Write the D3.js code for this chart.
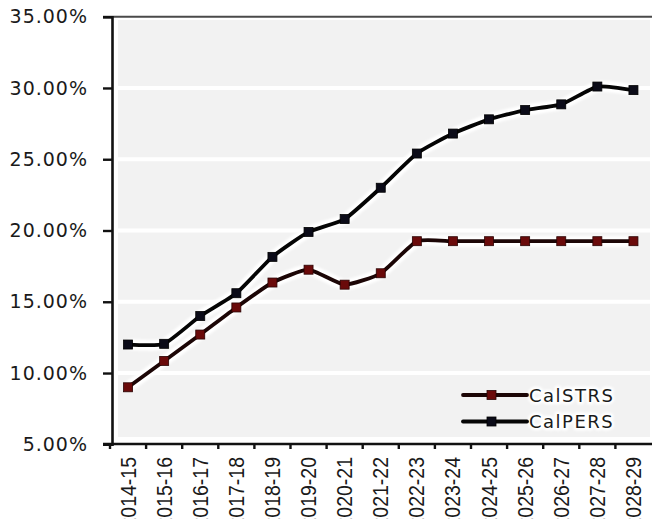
<!DOCTYPE html>
<html>
<head>
<meta charset="utf-8">
<script src="https://cdn.jsdelivr.net/npm/d3@7"></script>
<style>
  html, body { margin: 0; padding: 0; background: #ffffff; }
  svg { display: block; }
</style>
</head>
<body>
<svg id="chart" width="652" height="519"></svg>
<script>
// Fiscal years on the x axis
const years = ["2014-15","2015-16","2016-17","2017-18","2018-19","2019-20","2020-21",
               "2021-22","2022-23","2023-24","2024-25","2025-26","2026-27","2027-28","2028-29"];

// Employer contribution rates (%)
const calstrs = [9.0, 10.85, 12.7, 14.6, 16.35, 17.25, 16.2, 17.0, 19.25,
                 19.25, 19.25, 19.25, 19.25, 19.25, 19.25];
const calpers = [12.0, 12.05, 14.0, 15.6, 18.15, 19.9, 20.8, 23.0, 25.4,
                 26.8, 27.8, 28.45, 28.85, 30.1, 29.85];

// Y axis ticks (%)
const yTicks = [5, 10, 15, 20, 25, 30, 35];

const seriesNames = ["CalSTRS", "CalPERS"];

const svg = d3.select("#chart");

const x = d3.scaleBand().domain(years).range([110, 651.5]).padding(0);
const y = d3.scaleLinear().domain([5, 35]).range([444.3, 16.7]);

// blur for the white halo around lines
const defs = svg.append("defs");
defs.append("filter").attr("id", "glow")
  .attr("x", "-10%").attr("y", "-10%").attr("width", "120%").attr("height", "120%")
  .append("feGaussianBlur").attr("stdDeviation", 1.2);

// plot area background
svg.append("rect")
  .attr("x", 118).attr("y", 20)
  .attr("width", 532).attr("height", 417)
  .attr("fill", "#f2f2f2");

// horizontal gridlines
svg.append("g").selectAll("line")
  .data(yTicks.filter(d => d > 5 && d < 35))
  .join("line")
  .attr("x1", 112).attr("x2", 652)
  .attr("y1", d => y(d)).attr("y2", d => y(d))
  .attr("stroke", "#ffffff").attr("stroke-width", 4);

// top border
svg.append("line")
  .attr("x1", 103).attr("x2", 652)
  .attr("y1", 16.7).attr("y2", 16.7)
  .attr("stroke", "#4a4a4a").attr("stroke-width", 2);

// y axis
const yAxis = d3.axisLeft(y)
  .tickValues(yTicks)
  .tickSize(9)
  .tickPadding(15)
  .tickFormat(d => d3.format(".2f")(d) + "%");

const gy = svg.append("g").attr("transform", "translate(112,0)").call(yAxis);
gy.select(".domain").attr("stroke", "#111").attr("stroke-width", 2.6);
gy.selectAll(".tick line").attr("stroke", "#111").attr("stroke-width", 2.4);
gy.selectAll(".tick text")
  .attr("fill", "#1a1a1a")
  .style("font-family", "'DejaVu Sans', Verdana, sans-serif")
  .style("font-size", "19px")
  .style("letter-spacing", "1px");

// x axis (ticks between categories)
const xAxis = svg.append("g");
xAxis.append("line")
  .attr("x1", 103).attr("x2", 652)
  .attr("y1", 444).attr("y2", 444)
  .attr("stroke", "#111").attr("stroke-width", 2.6);
xAxis.selectAll("line.tick")
  .data(years)
  .join("line")
  .attr("class", "tick")
  .attr("x1", d => x(d)).attr("x2", d => x(d))
  .attr("y1", 444).attr("y2", 449)
  .attr("stroke", "#111").attr("stroke-width", 2.4);
xAxis.selectAll("text")
  .data(years)
  .join("text")
  .attr("transform", d => `translate(${x(d) + x.bandwidth() / 2},457) scale(1.1,1) rotate(-90)`)
  .attr("text-anchor", "end")
  .attr("dy", "0.35em")
  .attr("fill", "#1a1a1a")
  .style("font-family", "'Liberation Sans', Arial, sans-serif")
  .style("font-size", "19.5px")
  .text(d => d);

// series
const cx = d => x(d) + x.bandwidth() / 2;
const line = d3.line()
  .x((d, i) => cx(years[i]))
  .y(d => y(d))
  .curve(d3.curveCardinal.tension(0.5));

const series = [
  { name: seriesNames[0], values: calstrs, stroke: "#1c0606", fill: "#6a0a0a", edge: "#2a0303" },
  { name: seriesNames[1], values: calpers, stroke: "#050505", fill: "#0b0b18", edge: "#000000" }
];

// white halos first, then lines, then markers
series.forEach(s => {
  svg.append("path")
    .attr("d", line(s.values))
    .attr("fill", "none")
    .attr("stroke", "#ffffff")
    .attr("stroke-width", 11)
    .attr("stroke-linejoin", "round")
    .attr("filter", "url(#glow)");
});
series.forEach(s => {
  svg.append("path")
    .attr("d", line(s.values))
    .attr("fill", "none")
    .attr("stroke", s.stroke)
    .attr("stroke-width", 3.8)
    .attr("stroke-linejoin", "round");
  svg.append("g").selectAll("rect")
    .data(s.values)
    .join("rect")
    .attr("x", (d, i) => cx(years[i]) - 4.5)
    .attr("y", d => y(d) - 4.5)
    .attr("width", 9).attr("height", 9)
    .attr("fill", s.fill)
    .attr("stroke", s.edge).attr("stroke-width", 0.8);
});

// legend
const legendRows = [
  { s: series[0], y: 395 },
  { s: series[1], y: 421.5 }
];
const lg = svg.append("g");
legendRows.forEach(r => {
  lg.append("line")
    .attr("x1", 463).attr("x2", 527).attr("y1", r.y).attr("y2", r.y)
    .attr("stroke", "#ffffff").attr("stroke-width", 10)
    .attr("stroke-linecap", "round").attr("filter", "url(#glow)");
  lg.append("text")
    .attr("x", 529).attr("y", r.y + 6.5)
    .attr("fill", "none").attr("stroke", "#ffffff").attr("stroke-width", 5)
    .attr("stroke-linejoin", "round").attr("filter", "url(#glow)")
    .style("font-family", "'DejaVu Sans', Verdana, sans-serif")
    .style("font-size", "18px").style("letter-spacing", "1.5px")
    .text(r.s.name);
});
legendRows.forEach(r => {
  lg.append("line")
    .attr("x1", 463).attr("x2", 527).attr("y1", r.y).attr("y2", r.y)
    .attr("stroke", r.s.stroke).attr("stroke-width", 3.8)
    .attr("stroke-linecap", "round");
  lg.append("rect")
    .attr("x", 491.5 - 4.5).attr("y", r.y - 4.5)
    .attr("width", 9).attr("height", 9)
    .attr("fill", r.s.fill).attr("stroke", r.s.edge).attr("stroke-width", 0.8);
  lg.append("text")
    .attr("x", 529).attr("y", r.y + 6.5)
    .attr("fill", "#1a1a1a")
    .style("font-family", "'DejaVu Sans', Verdana, sans-serif")
    .style("font-size", "18px").style("letter-spacing", "1.5px")
    .text(r.s.name);
});
</script>
</body>
</html>
